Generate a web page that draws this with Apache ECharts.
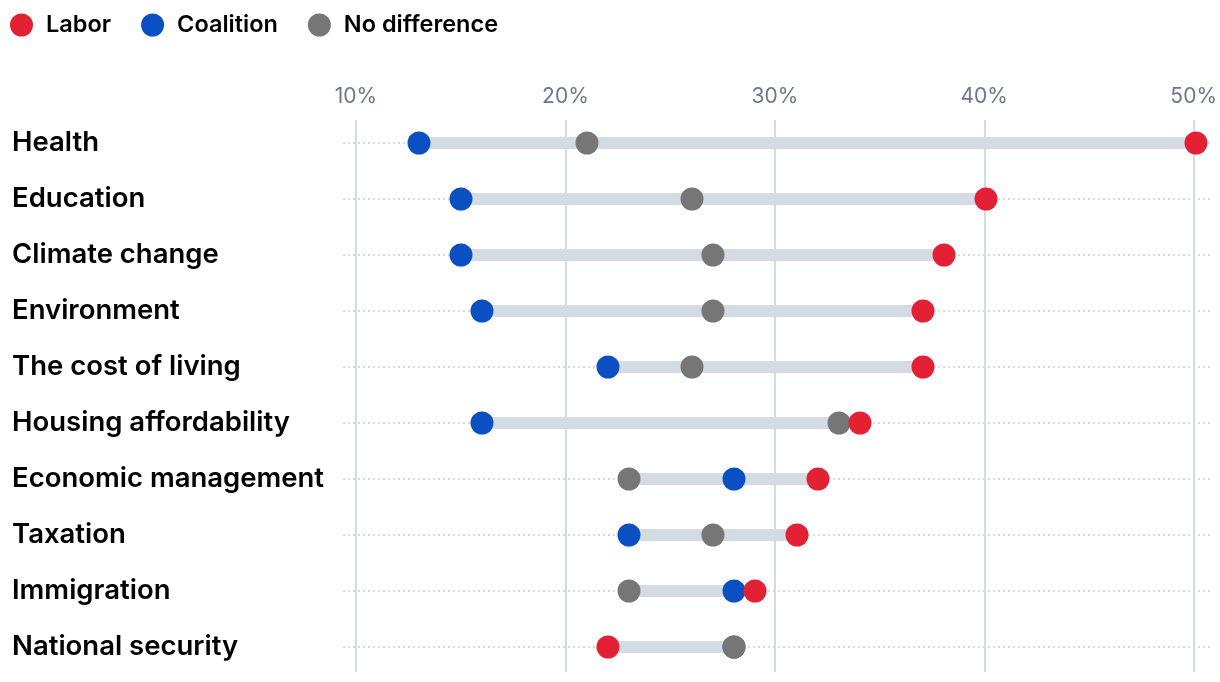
<!DOCTYPE html>
<html>
<head>
<meta charset="utf-8">
<script src="https://cdn.jsdelivr.net/npm/echarts@6/dist/echarts.min.js"></script>
<style>
html,body{margin:0;padding:0;background:#fff;}
#chart{width:1220px;height:682px;}
</style>
</head>
<body>
<div id="chart"></div>
<script>
const categories = ["Health","Education","Climate change","Environment","The cost of living","Housing affordability","Economic management","Taxation","Immigration","National security"];
const labor =        [50, 40, 38, 37, 37, 34, 32, 31, 29, 22];
const coalition =    [13, 15, 15, 16, 22, 16, 28, 23, 28, 28];
const noDifference = [21, 26, 27, 27, 26, 33, 23, 27, 23, 28];
const tickValues = [10, 20, 30, 40, 50];

const ranges = categories.map((c, i) => {
  const v = [labor[i], coalition[i], noDifference[i]];
  return [Math.min(...v), Math.max(...v), i];
});

const FONT = 'Inter';
const chart = echarts.init(document.getElementById('chart'));
chart.setOption({
  animation: false,
  textStyle: {fontFamily: FONT},
  legend: {
    left: 5, top: 8,
    itemWidth: 23, itemHeight: 23, itemGap: 30,
    icon: 'circle',
    data: ['Labor', 'Coalition', 'No difference'],
    textStyle: {fontSize: 23.5, fontWeight: 600, color: '#000', fontFamily: FONT, padding: [0, 0, 0, 8]}
  },
  grid: [
    {left: 356, right: 24, top: 120, bottom: 10},
    {left: 343, width: 867, top: 143, bottom: 35}
  ],
  xAxis: [
    {gridIndex: 0, type: 'value', position: 'top', min: 10, max: 50, interval: 10,
     axisLine: {show: false}, axisTick: {show: false},
     axisLabel: {formatter: v => tickValues.includes(v) ? v + '%' : '', fontSize: 21, color: '#6b778c', margin: 13, fontFamily: FONT},
     splitLine: {lineStyle: {color: '#d5dae2', width: 2}}},
    {gridIndex: 1, type: 'value', min: 10 - 13/21, max: 50 + 14/21, show: false}
  ],
  yAxis: [
    {gridIndex: 0, type: 'value', show: false},
    {gridIndex: 1, type: 'category', data: categories, inverse: true, boundaryGap: false,
     axisLine: {show: false}, axisTick: {show: false},
     axisLabel: {interval: 0, align: 'left', margin: 331, fontSize: 27.5, fontWeight: 600, color: '#000', fontFamily: FONT, padding: [4, 0, 0, 0]},
     splitLine: {show: true, interval: 0, lineStyle: {color: '#c9ced6', type: [2, 3], width: 1.5}}}
  ],
  series: [
    {type: 'custom', xAxisIndex: 1, yAxisIndex: 1, data: ranges, z: 1,
     renderItem: (params, api) => {
       const a = api.coord([api.value(0), api.value(2)]);
       const b = api.coord([api.value(1), api.value(2)]);
       return {type: 'rect', shape: {x: a[0], y: a[1] - 6, width: b[0] - a[0], height: 12},
               style: {fill: '#d5dbe3'}};
     }},
    {name: 'Coalition', type: 'scatter', xAxisIndex: 1, yAxisIndex: 1, symbolSize: 23, z: 2,
     itemStyle: {color: '#0b50c2', opacity: 1}, data: coalition.map((v, i) => [v, i])},
    {name: 'No difference', type: 'scatter', xAxisIndex: 1, yAxisIndex: 1, symbolSize: 23, z: 3,
     itemStyle: {color: '#767676', opacity: 1}, data: noDifference.map((v, i) => [v, i])},
    {name: 'Labor', type: 'scatter', xAxisIndex: 1, yAxisIndex: 1, symbolSize: 23, z: 4,
     itemStyle: {color: '#e32034', opacity: 1}, data: labor.map((v, i) => [v, i])}
  ]
});
</script>
</body>
</html>
